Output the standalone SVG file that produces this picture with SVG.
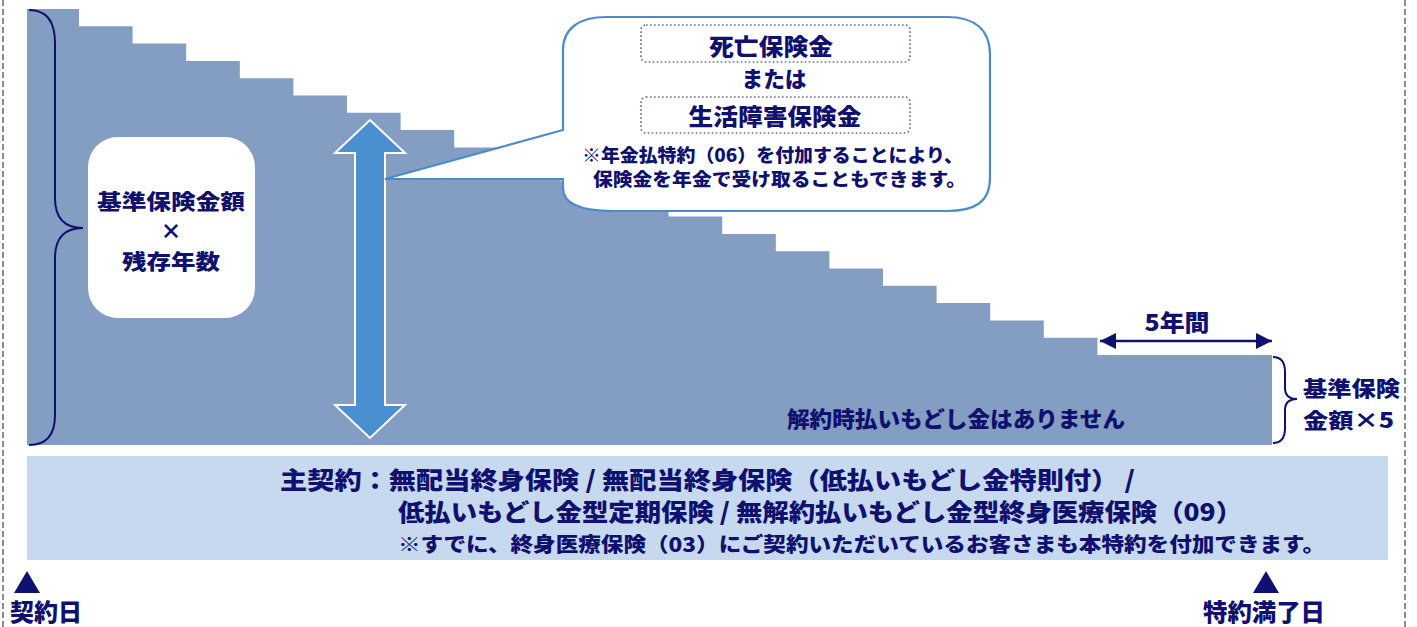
<svg xmlns="http://www.w3.org/2000/svg" width="1417" height="627" viewBox="0 0 1417 627">
<style>
.t{font-family:"Noto Sans CJK JP","Noto Sans",sans-serif;font-weight:900;fill:#10106E}
.dash{stroke:#8C8C8C;stroke-width:2;stroke-dasharray:6,3;fill:none}
.brace{fill:none;stroke:#10106E;stroke-width:2}
.dot{fill:none;stroke:#6A6A9A;stroke-width:1.6;stroke-dasharray:1.6,2.4}
</style>
<defs>
<marker id="ah" viewBox="0 0 10 10" refX="10" refY="5" markerWidth="17" markerHeight="16" markerUnits="userSpaceOnUse" orient="auto-start-reverse">
<path d="M0,0 L10,5 L0,10 Z" fill="#10106E"/>
</marker>
</defs>
<rect width="1417" height="627" fill="#FFFFFF"/>
<g id="frame">
<line class="dash" x1="3" y1="0" x2="3" y2="627"/>
<line class="dash" x1="1405" y1="0" x2="1405" y2="627"/>
</g>
<g id="staircase">
<path d="M27,445 V9 H79 V26.3 H132.6 V43.6 H186.2 V60.9 H239.8 V78.2 H293.4 V95.5 H347 V112.8 H400.6 V130.1 H454.2 V147.4 H507.8 V164.7 H561.4 V182 H615 V199.3 H668.6 V216.6 H722.2 V233.9 H775.8 V251.2 H829.4 V268.5 H883 V285.8 H936.6 V303.1 H990.2 V320.4 H1043.8 V337.7 H1097.4 V355 H1272 V445 Z" fill="#849DC2"/>
<text class="t" x="956" y="427" font-size="22" text-anchor="middle" textLength="338" lengthAdjust="spacingAndGlyphs">解約時払いもどし金はありません</text>
</g>
<g id="left-brace">
<path class="brace" d="M29,10 Q55,10 55,43 V198 Q55,228 83,228 Q55,228 55,258 V415 Q55,445 29,445"/>
</g>
<g id="formula-box">
<rect x="88" y="137" width="167" height="181" rx="30" ry="30" fill="#FFFFFF"/>
<text class="t" x="171" y="209" font-size="21" text-anchor="middle" textLength="148" lengthAdjust="spacingAndGlyphs">基準保険金額</text>
<text class="t" x="171" y="239" font-size="21" text-anchor="middle">×</text>
<text class="t" x="171" y="269" font-size="21" text-anchor="middle" textLength="98" lengthAdjust="spacingAndGlyphs">残存年数</text>
</g>
<g id="double-arrow">
<path d="M370,120 L405,153 H385 V405 H405 L370,438 L335,405 H355 V153 H335 Z" fill="#4A8FCF" stroke="#FFFFFF" stroke-width="2" stroke-linejoin="miter"/>
</g>
<g id="callout">
<path d="M606,17 H947 C975,17 990,30 990,55 V178 C990,202 975,211 947,211 H613 C585,211 563,205 563,188 V179 H385 L563,130 V50 C563,28 580,17 606,17 Z" fill="#FFFFFF" stroke="#4A8CCB" stroke-width="2.2"/>
<rect class="dot" x="641" y="25" width="269" height="37" rx="5"/>
<rect class="dot" x="641" y="97" width="269" height="36" rx="5"/>
<text class="t" x="771" y="55" font-size="23" text-anchor="middle" textLength="124" lengthAdjust="spacingAndGlyphs">死亡保険金</text>
<text class="t" x="774" y="87" font-size="22" text-anchor="middle" textLength="65" lengthAdjust="spacingAndGlyphs">または</text>
<text class="t" x="775" y="125" font-size="23" text-anchor="middle" textLength="173" lengthAdjust="spacingAndGlyphs">生活障害保険金</text>
<text class="t" x="582" y="162" font-size="18" textLength="381" lengthAdjust="spacingAndGlyphs">※年金払特約（06）を付加することにより、</text>
<text class="t" x="593" y="186" font-size="18" textLength="373" lengthAdjust="spacingAndGlyphs">保険金を年金で受け取ることもできます。</text>
</g>
<g id="five-years">
<line x1="1100" y1="341" x2="1272" y2="341" stroke="#10106E" stroke-width="2.5" marker-start="url(#ah)" marker-end="url(#ah)"/>
<text class="t" x="1177" y="331" font-size="23" text-anchor="middle" textLength="65" lengthAdjust="spacingAndGlyphs">5年間</text>
</g>
<g id="right-brace">
<path class="brace" d="M1273,357 Q1285,357 1285,372 V388 Q1285,399 1297,399 Q1285,399 1285,410 V428 Q1285,443 1273,443"/>
<text class="t" x="1303" y="396" font-size="21" textLength="97" lengthAdjust="spacingAndGlyphs">基準保険</text>
<text class="t" x="1303" y="428" font-size="21" textLength="91" lengthAdjust="spacingAndGlyphs">金額×5</text>
</g>
<g id="main-contract">
<rect x="27" y="456" width="1361" height="104" fill="#C6D9EF"/>
<text class="t" x="280" y="489" font-size="24" textLength="855" lengthAdjust="spacingAndGlyphs">主契約：無配当終身保険 / 無配当終身保険（低払いもどし金特則付） /</text>
<text class="t" x="398" y="521" font-size="24" textLength="844" lengthAdjust="spacingAndGlyphs">低払いもどし金型定期保険 / 無解約払いもどし金型終身医療保険（09）</text>
<text class="t" x="398" y="552" font-size="20" textLength="927" lengthAdjust="spacingAndGlyphs">※すでに、終身医療保険（03）にご契約いただいているお客さまも本特約を付加できます。</text>
</g>
<g id="start-date">
<polygon points="27,571 40,593 14,593" fill="#10106E"/>
<text class="t" x="10" y="621" font-size="24" textLength="72" lengthAdjust="spacingAndGlyphs">契約日</text>
</g>
<g id="end-date">
<polygon points="1266,571 1279,593 1253,593" fill="#10106E"/>
<text class="t" x="1203" y="621" font-size="24" textLength="122" lengthAdjust="spacingAndGlyphs">特約満了日</text>
</g>
</svg>
